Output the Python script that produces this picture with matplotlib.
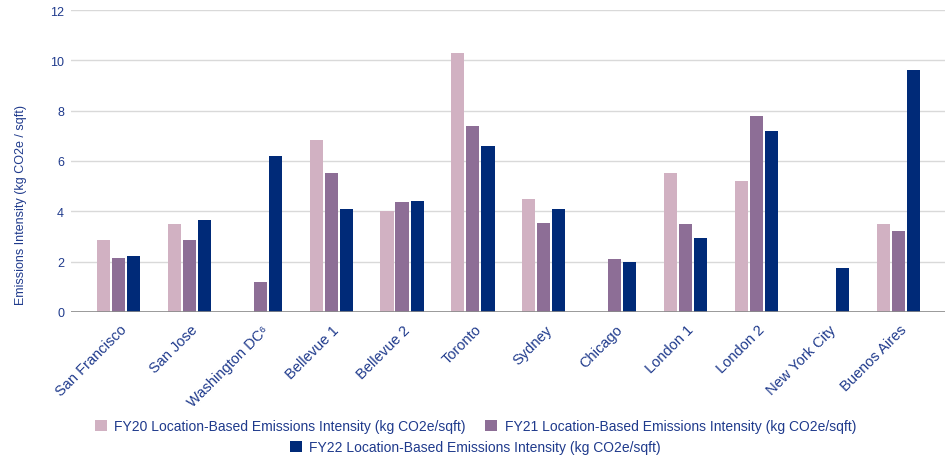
import matplotlib.pyplot as plt
import matplotlib.transforms as mtransforms
import numpy as np

plt.rcParams['font.family'] = ['Liberation Sans', 'DejaVu Sans']

# sites and emissions intensity per year (kg CO2e / sqft), nan = no data
sites = ["San Francisco", "San Jose", "Washington DC\u2076", "Bellevue 1", "Bellevue 2",
         "Toronto", "Sydney", "Chicago", "London 1", "London 2", "New York City",
         "Buenos Aires"]
fy20 = [2.85, 3.5, np.nan, 6.85, 4.0, 10.3, 4.5, np.nan, 5.5, 5.2, np.nan, 3.5]
fy21 = [2.15, 2.85, 1.2, 5.5, 4.35, 7.4, 3.55, 2.1, 3.5, 7.8, np.nan, 3.2]
fy22 = [2.2, 3.65, 6.2, 4.1, 4.4, 6.6, 4.1, 2.0, 2.95, 7.2, 1.75, 9.6]

labels = ["FY20 Location-Based Emissions Intensity (kg CO2e/sqft)",
          "FY21 Location-Based Emissions Intensity (kg CO2e/sqft)",
          "FY22 Location-Based Emissions Intensity (kg CO2e/sqft)"]
colors = ["#d1b1c2", "#8d6e96", "#002a78"]
txt = "#1f3a8c"

fig = plt.figure(figsize=(9.51, 4.6), dpi=100)
ax = fig.add_axes([0.0747, 0.32, 0.919, 0.656])

x = np.arange(len(sites))
w = 0.185
step = 0.212
bars = []
for i, (vals, c) in enumerate(zip([fy20, fy21, fy22], colors)):
    b = ax.bar(x + (i - 1) * step, vals, w, color=c, zorder=3)
    bars.append(b)

ax.set_xlim(-0.67, 11.66)
ax.set_ylim(0, 12)
ax.set_yticks(range(0, 13, 2))
ax.grid(axis='y', color='#d9d9d9', lw=1, zorder=0)
ax.axhline(0, color='#8a8a8a', lw=1.2, zorder=4)
for s in ax.spines.values():
    s.set_visible(False)
ax.tick_params(length=0, colors=txt, labelsize=9)
ax.tick_params(axis='y', pad=5)
ax.set_xticks(x)
ax.set_xticklabels(sites, rotation=45, ha='right', va='center', rotation_mode='anchor',
                   fontsize=10.5, color=txt)
ax.tick_params(axis='x', pad=11)
shift = mtransforms.ScaledTranslation(6 / 100, 0, fig.dpi_scale_trans)
for lab in ax.get_xticklabels():
    lab.set_transform(lab.get_transform() + shift)
ax.set_ylabel("Emissions Intensity (kg CO2e / sqft)", color=txt, fontsize=9)
ax.yaxis.set_label_coords(-0.05, 0.358)

kw = dict(frameon=False, fontsize=10, labelcolor=txt, handlelength=0.86,
          handleheight=0.86, handletextpad=0.55, borderpad=0, borderaxespad=0)
fig.legend(bars[:2], labels[:2], ncol=2, loc='center', bbox_to_anchor=(0.5, 1 - 427 / 460),
           columnspacing=1.4, **kw)
fig.legend(bars[2:], labels[2:], loc='center', bbox_to_anchor=(0.5, 1 - 448 / 460), **kw)

fig.savefig("out.png", dpi=100)
